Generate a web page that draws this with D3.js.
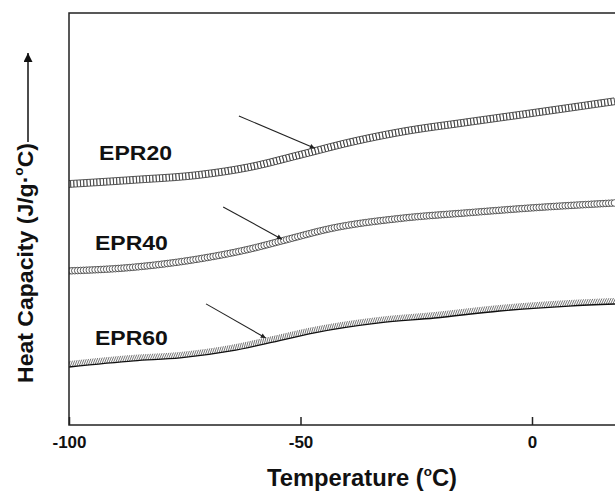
<!DOCTYPE html>
<html lang="en">
<head>
<meta charset="UTF-8" />
<title>Heat capacity of EPR samples</title>
<script src="https://d3js.org/d3.v7.min.js"></script>
<style>
  body { margin: 0; background: #fff; }
  text { font-family: "Liberation Sans", Arial, sans-serif; font-weight: bold; fill: #111; }
</style>
</head>
<body>
<div id="chart"></div>
<script>
var w = 615;
var h = 491;

// temperatures (degC) and heat capacity (arbitrary, curves shifted for clarity)
var tempEPR20 = [-100, -86, -72, -61, -50, -39, -28, -14, 0, 18];
var cpEPR20 = [58.5, 59.5, 60.7, 62.6, 65.6, 68.7, 71.2, 73.5, 75.7, 78.6];

var tempEPR40 = [-100, -86, -72, -61, -54, -43, -28, -14, 0, 18];
var cpEPR40 = [37.4, 38.3, 40.3, 42.7, 44.7, 47.8, 50.2, 51.5, 52.7, 53.9];

var tempEPR60 = [-100, -86, -76, -65, -57, -47, -33, -21, -7, 8, 18];
var cpEPR60 = [14.8, 16.3, 17.0, 18.7, 20.6, 23.1, 25.5, 26.7, 28.4, 29.6, 30.1];

var seriesNames = ["EPR20", "EPR40", "EPR60"];
var xTicks = [-100, -50, 0];

// arrows marking the glass transition: [fromT, fromCp, toT, toCp]
var arrows = [
    [-63.3, 75.0, -46.9, 67.2],
    [-66.7, 52.9, -54.0, 45.1],
    [-70.4, 29.4, -57.5, 21.1]
];
// label anchors [T, Cp]
var labelPos = [[-93.5, 64.3], [-94.4, 42.5], [-94.4, 19.4]];

var svg = d3.select("#chart").append("svg")
    .attr("width", w)
    .attr("height", h);

var xScale = d3.scaleLinear().domain([-100, 0]).range([69, 532]);
var yScale = d3.scaleLinear().domain([0, 100]).range([425, 13]);

var plotLeft = xScale(-100), plotTop = yScale(100), plotBottom = yScale(0);
var plotRight = xScale(40);

var defs = svg.append("defs");
defs.append("clipPath").attr("id", "plot")
    .append("rect")
    .attr("x", plotLeft).attr("y", plotTop)
    .attr("width", plotRight - plotLeft).attr("height", plotBottom - plotTop);

defs.append("marker")
    .attr("id", "head")
    .attr("viewBox", "0 0 10 10")
    .attr("refX", 10).attr("refY", 5)
    .attr("markerWidth", 10).attr("markerHeight", 5)
    .attr("markerUnits", "userSpaceOnUse")
    .attr("orient", "auto")
    .append("path").attr("d", "M0,0 L10,5 L0,10 Z").attr("fill", "#222");

defs.append("marker")
    .attr("id", "bighead")
    .attr("viewBox", "0 0 10 10")
    .attr("refX", 10).attr("refY", 5)
    .attr("markerWidth", 13).attr("markerHeight", 9)
    .attr("markerUnits", "userSpaceOnUse")
    .attr("orient", "auto")
    .append("path").attr("d", "M0,0 L10,5 L0,10 Z").attr("fill", "#111");

var line = d3.line()
    .x(function (d) { return xScale(d[0]); })
    .y(function (d) { return yScale(d[1]); })
    .curve(d3.curveMonotoneX);

var plot = svg.append("g").attr("clip-path", "url(#plot)");

function zipSeries(t, c) {
    return t.map(function (d, i) { return [d, c[i]]; });
}

// walk along the drawn curve and hand back point + direction every `step` px
function samples(pathNode, step) {
    var len = pathNode.getTotalLength();
    var out = [];
    for (var l = 0; l <= len; l += step) {
        var p = pathNode.getPointAtLength(l);
        var q = pathNode.getPointAtLength(Math.min(len, l + 0.5));
        var p0 = pathNode.getPointAtLength(Math.max(0, l - 0.5));
        var dx = q.x - p0.x, dy = q.y - p0.y;
        var n = Math.sqrt(dx * dx + dy * dy) || 1;
        out.push({ x: p.x, y: p.y, tx: dx / n, ty: dy / n });
    }
    return out;
}

// EPR20 : open rectangles
var g20 = plot.append("g");
var p20 = g20.append("path")
    .attr("d", line(zipSeries(tempEPR20, cpEPR20)))
    .attr("fill", "none").attr("stroke", "none");
g20.selectAll("rect")
    .data(samples(p20.node(), 3.3))
    .enter().append("rect")
    .attr("x", -1.6).attr("y", -3.4)
    .attr("width", 3.2).attr("height", 6.8)
    .attr("transform", function (d) {
        return "translate(" + d.x + "," + d.y + ") rotate(" + (Math.atan2(d.ty, d.tx) * 180 / Math.PI) + ")";
    })
    .attr("fill", "#fff").attr("stroke", "#333").attr("stroke-width", 0.8);

// EPR40 : open circles
var g40 = plot.append("g");
var p40 = g40.append("path")
    .attr("d", line(zipSeries(tempEPR40, cpEPR40)))
    .attr("fill", "none").attr("stroke", "none");
g40.selectAll("circle")
    .data(samples(p40.node(), 2.9))
    .enter().append("circle")
    .attr("cx", function (d) { return d.x; })
    .attr("cy", function (d) { return d.y; })
    .attr("r", 3.3)
    .attr("fill", "#fff").attr("stroke", "#333").attr("stroke-width", 0.8);

// EPR60 : hatched band with a solid lower edge
var g60 = plot.append("g");
var p60 = g60.append("path")
    .attr("d", line(zipSeries(tempEPR60, cpEPR60)))
    .attr("fill", "none").attr("stroke", "none");
g60.selectAll("line")
    .data(samples(p60.node(), 2.3))
    .enter().append("line")
    .attr("x1", function (d) { return d.x - d.ty * 3 - d.tx * 1.6; })
    .attr("y1", function (d) { return d.y + d.tx * 3 - d.ty * 1.6; })
    .attr("x2", function (d) { return d.x + d.ty * 3 + d.tx * 1.6; })
    .attr("y2", function (d) { return d.y - d.tx * 3 + d.ty * 1.6; })
    .attr("stroke", "#444").attr("stroke-width", 0.75);
g60.append("path")
    .attr("d", line(zipSeries(tempEPR60, cpEPR60)))
    .attr("transform", "translate(0,3)")
    .attr("fill", "none").attr("stroke", "#111").attr("stroke-width", 1.3);

// arrows
svg.selectAll(".arrow")
    .data(arrows)
    .enter().append("line")
    .attr("class", "arrow")
    .attr("x1", function (d) { return xScale(d[0]); })
    .attr("y1", function (d) { return yScale(d[1]); })
    .attr("x2", function (d) { return xScale(d[2]); })
    .attr("y2", function (d) { return yScale(d[3]); })
    .attr("stroke", "#222").attr("stroke-width", 1.1)
    .attr("marker-end", "url(#head)");

// series labels
svg.selectAll(".lab")
    .data(seriesNames)
    .enter().append("text")
    .attr("class", "lab")
    .attr("x", function (d, i) { return xScale(labelPos[i][0]); })
    .attr("y", function (d, i) { return yScale(labelPos[i][1]); })
    .attr("textLength", 73)
    .attr("lengthAdjust", "spacingAndGlyphs")
    .style("font-size", "21px")
    .text(function (d) { return d; });

// frame
svg.append("rect")
    .attr("x", plotLeft).attr("y", plotTop)
    .attr("width", plotRight - plotLeft).attr("height", plotBottom - plotTop)
    .attr("fill", "none").attr("stroke", "#222").attr("stroke-width", 1.5);

// x axis, ticks pointing inwards
var xAxis = d3.axisBottom(xScale)
    .tickValues(xTicks)
    .tickSizeInner(-8)
    .tickSizeOuter(0)
    .tickPadding(14)
    .tickFormat(function (d) { return String(d); });

var gx = svg.append("g")
    .attr("transform", "translate(0," + plotBottom + ")")
    .call(xAxis);
gx.select(".domain").remove();
gx.selectAll("line").attr("stroke", "#222").attr("stroke-width", 1.5);
gx.selectAll("text")
    .attr("y", 23)
    .attr("dy", 0)
    .style("font-size", "17px")
    .style("font-family", "'Liberation Sans', Arial, sans-serif")
    .style("font-weight", "bold")
    .attr("fill", "#111");

// axis titles
var xt = svg.append("text")
    .attr("x", 267).attr("y", 486)
    .attr("textLength", 190)
    .attr("lengthAdjust", "spacingAndGlyphs")
    .style("font-size", "23px");
xt.append("tspan").text("Temperature (");
xt.append("tspan").attr("dy", -10).style("font-size", "13px").text("o");
xt.append("tspan").attr("dy", 10).text("C)");

var yt = svg.append("text")
    .attr("transform", "translate(33,383) rotate(-90)")
    .attr("textLength", 240)
    .attr("lengthAdjust", "spacingAndGlyphs")
    .style("font-size", "22px");
yt.append("tspan").text("Heat Capacity (J/g\u00b7");
yt.append("tspan").attr("dy", -10).style("font-size", "13px").text("o");
yt.append("tspan").attr("dy", 10).text("C)");

svg.append("line")
    .attr("x1", 28).attr("y1", 142)
    .attr("x2", 28).attr("y2", 53)
    .attr("stroke", "#111").attr("stroke-width", 1.5)
    .attr("marker-end", "url(#bighead)");
</script>
</body>
</html>
